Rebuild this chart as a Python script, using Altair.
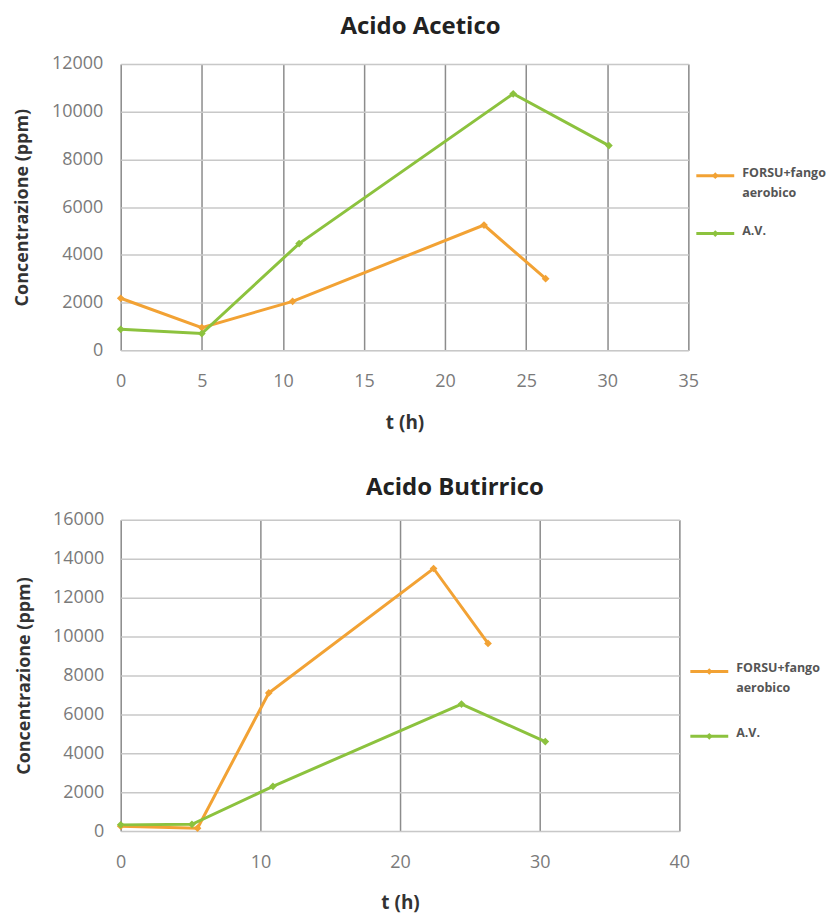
import altair as alt
import pandas as pd

# ---------------- data ----------------
series_names = ["FORSU+fango aerobico", "A.V."]
series_colors = ["#F2A234", "#8CC23E"]

titles = ["Acido Acetico", "Acido Butirrico"]
x_title = "t (h)"
y_title = "Concentrazione (ppm)"
legend_texts = [["FORSU+fango", "aerobico"], ["A.V."]]

# Acido Acetico
ac_forsu_t = [0, 5, 10.6, 22.4, 26.2]
ac_forsu_v = [2180, 950, 2050, 5250, 3000]
ac_av_t = [0, 5, 11, 24.2, 30.1]
ac_av_v = [880, 700, 4470, 10750, 8580]

# Acido Butirrico
bu_forsu_t = [0, 5.5, 10.6, 22.4, 26.3]
bu_forsu_v = [250, 150, 7100, 13500, 9650]
bu_av_t = [0, 5.1, 10.9, 24.4, 30.4]
bu_av_v = [320, 350, 2300, 6530, 4600]

ac_x_ticks = [0, 5, 10, 15, 20, 25, 30, 35]
ac_y_ticks = [0, 2000, 4000, 6000, 8000, 10000, 12000]
bu_x_ticks = [0, 10, 20, 30, 40]
bu_y_ticks = [0, 2000, 4000, 6000, 8000, 10000, 12000, 14000, 16000]

FONT = "Open Sans"


def panel(title, t1, v1, t2, v2, xt, yt, w, h, title_dx, title_off, lab_pad, ttl_pad, leg_x, leg_y):
    df = pd.DataFrame({
        "t": t1 + t2,
        "c": v1 + v2,
        "s": [series_names[0]] * len(t1) + [series_names[1]] * len(t2),
        "o": list(range(len(t1))) + list(range(len(t2))),
    })
    color = alt.Color("s:N", scale=alt.Scale(domain=series_names, range=series_colors), legend=None)
    x = alt.X("t:Q",
              scale=alt.Scale(domain=[xt[0], xt[-1]], nice=False, zero=False),
              axis=alt.Axis(values=xt, tickCount=len(xt), title=x_title, grid=True,
                            gridColor="#8c8c8c", gridWidth=1.5, domain=False, ticks=False,
                            labelPadding=22, labelFlush=False, labelOverlap=False,
                            labelFont=FONT, labelFontSize=18, labelColor="#7a7a7a",
                            titleFont=FONT, titleFontSize=19, titleFontWeight="bold",
                            titleColor="#333333", titlePadding=23))
    y = alt.Y("c:Q",
              scale=alt.Scale(domain=[yt[0], yt[-1]], nice=False),
              axis=alt.Axis(values=yt, tickCount=len(yt), format="d", title=y_title, grid=True,
                            gridColor="#c8c8c8", gridWidth=1.5, domain=False, ticks=False,
                            labelPadding=lab_pad, labelFlush=False, labelOverlap=False,
                            labelFont=FONT, labelFontSize=18, labelColor="#7a7a7a",
                            titleFont=FONT, titleFontSize=18, titleFontWeight="bold",
                            titleColor="#333333", titlePadding=ttl_pad))
    base = alt.Chart(df)
    lines = base.mark_line(strokeWidth=3).encode(x=x, y=y, color=color, order="o:Q", detail="s:N")
    pts = base.mark_point(filled=True, shape="diamond", size=60, opacity=1).encode(
        x="t:Q", y="c:Q", color=color)

    layers = [lines, pts]
    for i, name in enumerate(series_names):
        one = alt.Chart(pd.DataFrame({"s": [name]}))
        yy = leg_y[i]
        layers.append(one.mark_rule(strokeWidth=3, color=series_colors[i]).encode(
            x=alt.value(leg_x), x2=alt.value(leg_x + 38), y=alt.value(yy)))
        layers.append(one.mark_point(filled=True, shape="diamond", size=45, opacity=1,
                                     color=series_colors[i]).encode(
            x=alt.value(leg_x + 19), y=alt.value(yy)))
        layers.append(one.mark_text(align="left", baseline="top", font=FONT, fontSize=12.5,
                                    fontWeight="bold", color="#555555", lineHeight=20).encode(
            x=alt.value(leg_x + 46), y=alt.value(yy - 9), text=alt.value(legend_texts[i])))

    return alt.layer(*layers).properties(
        width=w, height=h,
        title=alt.TitleParams(title, font=FONT, fontSize=24, fontWeight="bold", color="#222222",
                              anchor="middle", frame="group", dx=title_dx, offset=title_off),
    )


top = panel(titles[0], ac_forsu_t, ac_forsu_v, ac_av_t, ac_av_v, ac_x_ticks, ac_y_ticks,
            569, 287, 16, 16, 18, 20, 577, [112, 170])
bottom = panel(titles[1], bu_forsu_t, bu_forsu_v, bu_av_t, bu_av_v, bu_x_ticks, bu_y_ticks,
               560, 312, 55, 11, 17, 19, 571, [152, 217])

chart = alt.concat(top, bottom, columns=1, spacing=42, align="none").properties(
    padding={"left": 5, "top": 5, "right": 2, "bottom": 0}
).configure_view(stroke="#c8c8c8", strokeWidth=1.5).configure(background="white")

chart.save("out.html", embed_options={"renderer": "svg", "actions": False})
